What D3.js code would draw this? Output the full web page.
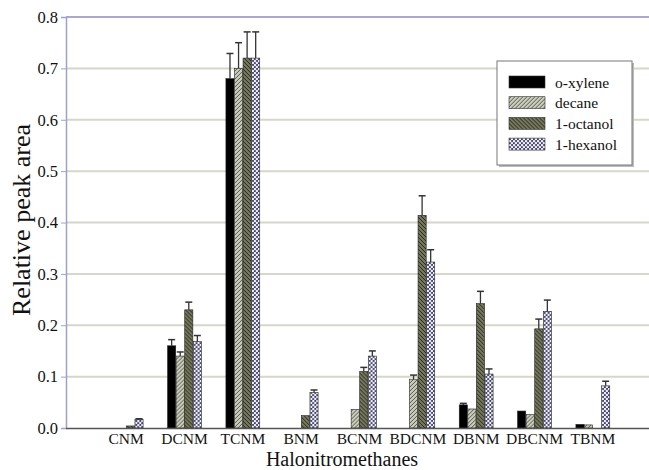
<!DOCTYPE html>
<html>
<head>
<meta charset="utf-8">
<script src="https://cdn.jsdelivr.net/npm/d3@7"></script>
<style>
  body { margin: 0; background: #fff; }
</style>
</head>
<body>
<div class="chart"></div>
<script>
const categories = ["CNM", "DCNM", "TCNM", "BNM", "BCNM", "BDCNM", "DBNM", "DBCNM", "TBNM"];
const series = ["o-xylene", "decane", "1-octanol", "1-hexanol"];
const oXylene  = [0, 0.160, 0.680, 0, 0, 0, 0.045, 0.033, 0.007];
const decane   = [0, 0.140, 0.700, 0, 0.036, 0.095, 0.037, 0.026, 0.006];
const octanol  = [0.004, 0.230, 0.720, 0.024, 0.110, 0.414, 0.242, 0.193, 0];
const hexanol  = [0.017, 0.168, 0.720, 0.069, 0.140, 0.323, 0.105, 0.227, 0.082];
const errXylene  = [0, 0.012, 0.049, 0, 0, 0, 0.003, 0, 0];
const errDecane  = [0, 0.008, 0.050, 0, 0, 0.008, 0, 0, 0];
const errOctanol = [0, 0.015, 0.051, 0, 0.008, 0.038, 0.024, 0.019, 0];
const errHexanol = [0.001, 0.012, 0.051, 0.005, 0.010, 0.024, 0.010, 0.022, 0.009];
const yTicks = [0, 0.1, 0.2, 0.3, 0.4, 0.5, 0.6, 0.7, 0.8];

const FONT = '"Liberation Serif"';

const values = [oXylene, decane, octanol, hexanol];
const errors = [errXylene, errDecane, errOctanol, errHexanol];
const rows = [];
categories.forEach((c, i) => {
  series.forEach((s, j) => {
    rows.push({cat: c, ser: s, idx: j, value: values[j][i], err: errors[j][i]});
  });
});

const W = 649, H = 470;
const svg = d3.select(".chart").append("svg")
  .attr("width", W)
  .attr("height", H);

// fill patterns
const defs = svg.append("defs");
let p = defs.append("pattern").attr("id", "pDecane").attr("patternUnits", "userSpaceOnUse")
  .attr("width", 4).attr("height", 4);
p.append("rect").attr("width", 4).attr("height", 4).attr("fill", "#c9ccbb");
p.append("path").attr("d", "M-1,1 l2,-2 M0,4 l4,-4 M3,5 l2,-2").attr("stroke", "#4a4a40").attr("stroke-width", 0.9);

p = defs.append("pattern").attr("id", "pOctanol").attr("patternUnits", "userSpaceOnUse")
  .attr("width", 4).attr("height", 4);
p.append("rect").attr("width", 4).attr("height", 4).attr("fill", "#75775c");
p.append("path").attr("d", "M-1,3 l2,2 M0,0 l4,4 M3,-1 l2,2").attr("stroke", "#1e1e18").attr("stroke-width", 0.9);

p = defs.append("pattern").attr("id", "pHexanol").attr("patternUnits", "userSpaceOnUse")
  .attr("width", 4).attr("height", 4);
p.append("rect").attr("width", 4).attr("height", 4).attr("fill", "#3c3c60");
p.append("circle").attr("cx", 1).attr("cy", 1).attr("r", 1.3).attr("fill", "#eeeefa");
p.append("circle").attr("cx", 3).attr("cy", 3).attr("r", 1.3).attr("fill", "#eeeefa");

const fills = {"o-xylene": "#000", "decane": "url(#pDecane)", "1-octanol": "url(#pOctanol)", "1-hexanol": "url(#pHexanol)"};

const x = d3.scaleBand().domain(categories).range([97, 622]);
const groupW = x.bandwidth() * 0.58;
const x1 = d3.scaleBand().domain(series).range([0, groupW]).paddingInner(0.05);
const y = d3.scaleLinear().domain([0, 0.8]).range([428, 17]);

// gridlines
svg.append("g").selectAll("line")
  .data(yTicks.filter(t => t > 0))
  .join("line")
  .attr("x1", 66).attr("x2", W)
  .attr("y1", d => y(d)).attr("y2", d => y(d))
  .attr("stroke", d => d === 0.8 ? "#a9a9cf" : "#d6d6c9")
  .attr("stroke-width", 2);

// y axis
const yAxis = d3.axisLeft(y).tickValues(yTicks).tickFormat(d3.format(".1f")).tickSize(5).tickPadding(3);
const gy = svg.append("g").attr("transform", "translate(66,0)").call(yAxis);
gy.select(".domain").attr("stroke", "#a0a0cc").attr("stroke-width", 1.5);
gy.selectAll(".tick line").attr("stroke", "#a0a0cc");
gy.selectAll("text").style("font-family", FONT).style("font-size", "16.5px").attr("fill", "#111");

// bars
const bars = svg.append("g").selectAll("g")
  .data(rows)
  .join("g")
  .attr("transform", d => `translate(${x(d.cat) + (x.bandwidth() - groupW) / 2},0)`);

bars.filter(d => d.value > 0).append("rect")
  .attr("x", d => x1(d.ser))
  .attr("width", x1.bandwidth())
  .attr("y", d => y(d.value))
  .attr("height", d => y(0) - y(d.value))
  .attr("fill", d => fills[d.ser])
  .attr("stroke", "#222")
  .attr("stroke-width", 0.6);

// error bars
const eb = bars.filter(d => d.err > 0);
eb.append("line")
  .attr("x1", d => x1(d.ser) + x1.bandwidth() / 2)
  .attr("x2", d => x1(d.ser) + x1.bandwidth() / 2)
  .attr("y1", d => y(d.value))
  .attr("y2", d => y(d.value + d.err))
  .attr("stroke", "#333").attr("stroke-width", 1.3);
eb.append("line")
  .attr("x1", d => x1(d.ser) + x1.bandwidth() / 2 - 3.5)
  .attr("x2", d => x1(d.ser) + x1.bandwidth() / 2 + 3.5)
  .attr("y1", d => y(d.value + d.err))
  .attr("y2", d => y(d.value + d.err))
  .attr("stroke", "#333").attr("stroke-width", 1.5);

// x axis
const xAxis = d3.axisBottom(x).tickSize(0).tickPadding(5);
const gx = svg.append("g").attr("transform", "translate(0,428)").call(xAxis);
gx.select(".domain").remove();
gx.selectAll("text").style("font-family", FONT).style("font-size", "15.5px").attr("fill", "#111");
svg.append("line").attr("x1", 66).attr("x2", W).attr("y1", 428.5).attr("y2", 428.5)
  .attr("stroke", "#555").attr("stroke-width", 1.5);

// axis titles
svg.append("text")
  .attr("x", 342).attr("y", 465.5)
  .attr("text-anchor", "middle")
  .style("font-family", FONT).style("font-size", "20px")
  .attr("fill", "#111")
  .text("Halonitromethanes");

svg.append("text")
  .attr("transform", "translate(30,220) rotate(-90)")
  .attr("text-anchor", "middle")
  .style("font-family", FONT).style("font-size", "26px")
  .attr("fill", "#111")
  .text("Relative peak area");

// legend
const lg = svg.append("g").attr("transform", "translate(497,61)");
lg.append("rect").attr("x", 2).attr("y", 2).attr("width", 135).attr("height", 104).attr("fill", "#bbb");
lg.append("rect").attr("width", 135).attr("height", 104).attr("fill", "#fff").attr("stroke", "#777");
const li = lg.selectAll(".li").data(series).join("g")
  .attr("class", "li")
  .attr("transform", (d, i) => `translate(12,${21 + i * 20.7})`);
li.append("rect").attr("y", -6).attr("width", 36).attr("height", 12)
  .attr("fill", d => fills[d]).attr("stroke", "#333").attr("stroke-width", 0.6);
li.append("text").attr("x", 46).attr("y", 5.5)
  .style("font-family", FONT).style("font-size", "15.5px")
  .attr("fill", "#111")
  .text(d => d);
</script>
</body>
</html>
